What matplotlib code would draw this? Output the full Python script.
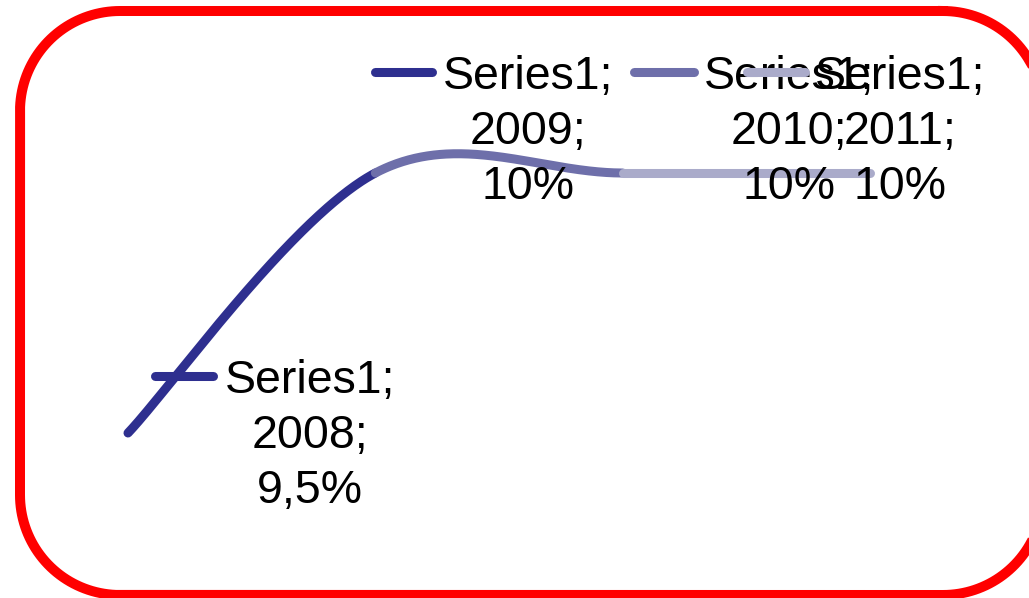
import numpy as np
import matplotlib
matplotlib.use("Agg")
import matplotlib.pyplot as plt

# data
years = ["2008", "2009", "2010", "2011"]
values = [9.5, 10.0, 10.0, 10.0]
labels = ["9,5%", "10%", "10%", "10%"]
series = "Series1"
seg_colors = ["#2E2F8F", "#6E6FAA", "#AAABCA"]

# label offsets in pixels: text centre, key start/end, key height
text_off = [(182, -3), (153, 41), (166, 41), (30, 41)]
key_off = [(27, 85, 57), (0, 57, 101), (11, 71, 101), (-123, -65, 101)]

plt.rcParams['font.family'] = ['Liberation Sans', 'DejaVu Sans']

fig = plt.figure(figsize=(10.29, 5.98), dpi=100)
ax = fig.add_axes([0, 0, 1, 1])
ax.set_xlim(-128 / 247.33, (1029 - 128) / 247.33)
ax.set_ylim(9.5 - 165 / 520, 10 + 173 / 520)
ax.axis("off")

# Excel style smoothed line: bezier segments between the points
x = np.arange(len(values), dtype=float)
y = np.array(values)
n = len(values)
t = np.linspace(0, 1, 200)
for i in range(n - 1):
    p0 = np.array([x[max(i - 1, 0)], y[max(i - 1, 0)]])
    p1 = np.array([x[i], y[i]])
    p2 = np.array([x[i + 1], y[i + 1]])
    p3 = np.array([x[min(i + 2, n - 1)], y[min(i + 2, n - 1)]])
    c1 = p1 + (p2 - p0) / 6
    c2 = p2 - (p3 - p1) / 6
    bx = ((1 - t) ** 3 * p1[0] + 3 * (1 - t) ** 2 * t * c1[0]
          + 3 * (1 - t) * t ** 2 * c2[0] + t ** 3 * p2[0])
    by = ((1 - t) ** 3 * p1[1] + 3 * (1 - t) ** 2 * t * c1[1]
          + 3 * (1 - t) * t ** 2 * c2[1] + t ** 3 * p2[1])
    ax.plot(bx, by, color=seg_colors[i], lw=6.5, solid_capstyle="round", zorder=2 + i)

# data labels with legend keys
inv = ax.transData.inverted()
for i, (yr, v, lab) in enumerate(zip(years, values, labels)):
    px, py = ax.transData.transform((i, v))
    ax.annotate(f"{series};\n{yr};\n{lab}", xy=(i, v), xytext=text_off[i],
                textcoords="offset pixels", ha="center", va="center",
                multialignment="center", fontsize=33.5, linespacing=1.33,
                color="black", zorder=10)
    k0, k1, kh = key_off[i]
    (a0, b0) = inv.transform((px + k0, py + kh))
    (a1, b1) = inv.transform((px + k1, py + kh))
    col = seg_colors[max(i - 1, 0)]
    ax.plot([a0, a1], [b0, b1], color=col, lw=6.5, solid_capstyle="round", zorder=10)

# rounded red border (pixel coords, y down)
bd = fig.add_axes([0, 0, 1, 1], zorder=-1)
bd.set_xlim(0, 1029)
bd.set_ylim(598, 0)
bd.axis("off")
L, T, R, B, r = 20, 11, 1043, 595, 100
pts = []
for cx, cy, a0 in [(R - r, T + r, -90), (R - r, B - r, 0), (L + r, B - r, 90), (L + r, T + r, 180)]:
    th = np.radians(np.linspace(a0, a0 + 90, 40))
    pts.append(np.column_stack([cx + r * np.cos(th), cy + r * np.sin(th)]))
pts = np.vstack(pts + [pts[0][:1]])
bd.plot(pts[:, 0], pts[:, 1], color="#FF0000", lw=7.2, solid_joinstyle="round")

fig.savefig("out.png", dpi=100)
